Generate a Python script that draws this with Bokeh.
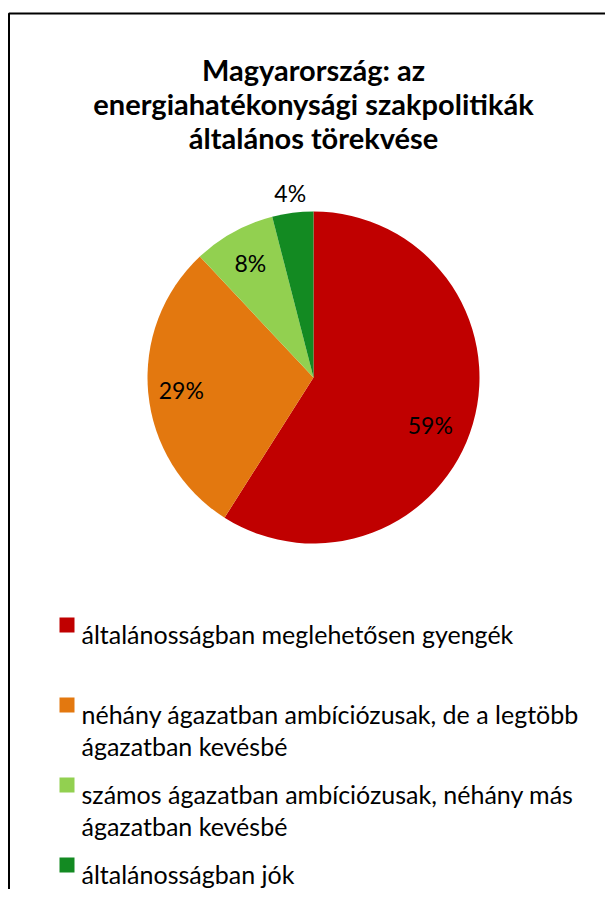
import math
from bokeh.plotting import figure
from bokeh.models import Range1d, ColumnDataSource
from bokeh.core.properties import value
from bokeh.embed import file_html
from bokeh.resources import INLINE

# ---- data ----
title_lines = ["Magyarország: az", "energiahatékonysági szakpolitikák", "általános törekvése"]
categories = [
    "általánosságban meglehetősen gyengék",
    "néhány ágazatban ambíciózusak, de a legtöbb\nágazatban kevésbé",
    "számos ágazatban ambíciózusak, néhány más\nágazatban kevésbé",
    "általánosságban jók",
]
shares = [59, 29, 8, 4]
colors = ["#C00000", "#E3780F", "#92D050", "#138A22"]

# ---- layout constants (pixels, y measured from top) ----
W, H = 605, 889
FONT = "Lato"
cx, cy_top, R = 313, 377, 166
label_r = [0.76, 0.80, 0.79, 1.12]
label_dang = [6, 0, 0, 0]


def Y(top):
    return H - top


p = figure(width=W, height=H, output_backend="svg", toolbar_location=None,
           x_range=Range1d(0, W), y_range=Range1d(0, H),
           x_axis_location=None, y_axis_location=None, min_border=0)
p.outline_line_color = None
p.grid.visible = False
p.background_fill_color = "white"
p.border_fill_color = "white"

# frame border (left and top visible)
p.line(x=[8.5, 8.5, W + 20], y=[-20, Y(13), Y(13)], line_color="black", line_width=2)

# pie
cy = Y(cy_top)
total = sum(shares)
starts, ends, lx, ly, ltxt = [], [], [], [], []
cum = 0.0
for i, v in enumerate(shares):
    a0 = math.pi / 2 - 2 * math.pi * cum / total
    a1 = math.pi / 2 - 2 * math.pi * (cum + v) / total
    mid = math.pi / 2 - 2 * math.pi * (cum + v / 2) / total - math.radians(label_dang[i])
    starts.append(a0)
    ends.append(a1)
    lx.append(cx + R * label_r[i] * math.cos(mid))
    ly.append(cy + R * label_r[i] * math.sin(mid))
    ltxt.append(f"{v}%")
    cum += v

src = ColumnDataSource(dict(x=[cx] * len(shares), y=[cy] * len(shares), s=starts, e=ends, c=colors))
p.wedge(x="x", y="y", radius=R, start_angle="s", end_angle="e", direction="clock",
        fill_color="c", line_color=None, source=src)

p.text(x=lx, y=ly, text=ltxt, text_font=value(FONT), text_font_size="23px",
       text_align="center", text_baseline="middle", text_color="black")

# title
tb = [Y(68.5), Y(102.5), Y(136.5)]
p.text(x=[cx] * 3, y=tb, text=title_lines, text_font=value(FONT), text_font_style="bold",
       text_font_size="29px", text_align="center", text_baseline="alphabetic", text_color="black")

# legend
sq_x, sq_y, tx, ty, tt = [], [], [], [], []
for i, cat in enumerate(categories):
    base = Y(633 + 80 * i)
    sq_x.append(66.5)
    sq_y.append(base + 8.5)
    for j, line in enumerate(cat.split("\n")):
        tx.append(81)
        ty.append(base - 32 * j)
        tt.append(line)
p.scatter(x=sq_x, y=sq_y, marker="square", size=15, fill_color=colors, line_color=None)
p.text(x=tx, y=ty, text=tt, text_font=value(FONT), text_font_size="25px",
       text_align="left", text_baseline="alphabetic", text_color="black")

open("out.html", "w").write(file_html(p, INLINE))
